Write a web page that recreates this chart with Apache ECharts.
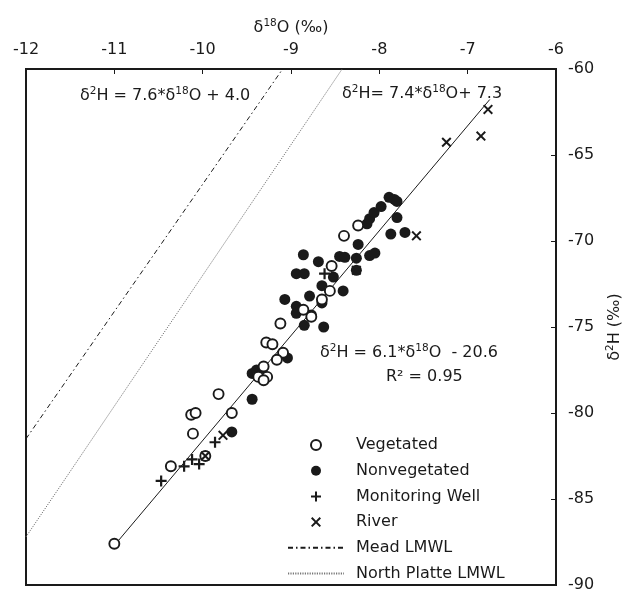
<!DOCTYPE html>
<html>
<head>
<meta charset="utf-8">
<script src="https://cdn.jsdelivr.net/npm/echarts@6/dist/echarts.min.js"></script>
<style>
  html, body { margin: 0; padding: 0; background: #fff; }
  #chart { width: 626px; height: 591px; }
</style>
</head>
<body>
<div id="chart"></div>
<script>
// Axis ranges and tick labels
const xTicks = [-12, -11, -10, -9, -8, -7, -6];
const yTicks = [-90, -85, -80, -75, -70, -65, -60];

// Sample isotope values: [δ18O, δ2H]
const vegetated = [
  [-11.0, -87.6], [-10.36, -83.1], [-10.11, -81.2], [-10.13, -80.1], [-10.08, -80.0],
  [-9.82, -78.9], [-9.67, -80.0], [-9.97, -82.5], [-9.12, -74.8], [-9.28, -75.9],
  [-9.21, -76.0], [-9.09, -76.5], [-9.16, -76.9], [-9.31, -77.3], [-9.37, -77.9],
  [-9.27, -77.9], [-9.31, -78.1], [-8.86, -74.0], [-8.77, -74.4], [-8.65, -73.4],
  [-8.56, -72.9], [-8.54, -71.45], [-8.40, -69.7], [-8.24, -69.1]
];
const nonvegetated = [
  [-9.67, -81.1], [-9.44, -79.2], [-9.44, -77.7], [-9.39, -77.5], [-9.33, -77.7],
  [-9.04, -76.8], [-9.07, -73.4], [-8.94, -73.8], [-8.94, -74.2], [-8.85, -74.9],
  [-8.79, -73.2], [-8.63, -75.0], [-8.86, -70.8], [-8.69, -71.2], [-8.94, -71.9],
  [-8.85, -71.9], [-8.65, -72.6], [-8.65, -73.6], [-8.77, -74.3], [-8.52, -72.1],
  [-8.41, -72.9], [-8.26, -71.0], [-8.45, -70.9], [-8.39, -70.95], [-8.11, -70.85],
  [-8.05, -70.7], [-8.24, -70.2], [-8.14, -69.0], [-8.11, -68.7], [-8.06, -68.35],
  [-7.98, -68.0], [-7.89, -67.46], [-7.83, -67.58], [-7.80, -67.7], [-7.80, -68.64],
  [-7.87, -69.6], [-7.71, -69.5], [-8.26, -71.7]
];
const monitoringWell = [
  [-10.47, -83.95], [-10.21, -83.1], [-10.12, -82.7], [-10.04, -82.97],
  [-9.86, -81.7], [-8.62, -71.9]
];
const river = [
  [-6.77, -62.35], [-6.85, -63.9], [-7.24, -64.26], [-7.58, -69.7],
  [-8.26, -71.7], [-9.97, -82.5], [-9.77, -81.3]
];

// Line equations: [slope, intercept] for δ2H = slope * δ18O + intercept
const meadLMWL = [7.4, 7.3];
const northPlatteLMWL = [7.6, 4.0];
const regressionFit = [6.1, -20.6];
const regressionRange = [-11.0, -6.75];

const X_MIN = xTicks[0], X_MAX = xTicks[xTicks.length - 1];
const Y_MIN = yTicks[0], Y_MAX = yTicks[yTicks.length - 1];

// Endpoints of a line clipped to the plotting window
function lineThroughWindow(eq, x0, x1) {
  const [m, b] = eq;
  let a = x0 !== undefined ? x0 : X_MIN;
  let c = x1 !== undefined ? x1 : X_MAX;
  const xAtTop = (Y_MAX - b) / m;
  const xAtBottom = (Y_MIN - b) / m;
  a = Math.max(a, Math.min(xAtTop, xAtBottom));
  c = Math.min(c, Math.max(xAtTop, xAtBottom));
  return [[a, m * a + b], [c, m * c + b]];
}

const FONT = '"DejaVu Sans", Verdana, sans-serif';
const INK = '#1a1a1a';
const FS = 16;

const PLUS_PATH = 'path://M4,0H6V4H10V6H6V10H4V6H0V4H4Z';
const CROSS_PATH = 'path://M0,1.4L1.4,0L5,3.6L8.6,0L10,1.4L6.4,5L10,8.6L8.6,10L5,6.4L1.4,10L0,8.6L3.6,5Z';

const richStyles = {
  n: { fontSize: FS, fontFamily: FONT, fontWeight: 'normal', color: INK, lineHeight: 20, verticalAlign: 'middle' },
  s: { fontSize: 10.5, fontFamily: FONT, fontWeight: 'normal', color: INK, lineHeight: 13, verticalAlign: 'top' }
};

function note(text, left, top) {
  return {
    text: text, left: left, top: top, padding: 0,
    textStyle: { fontWeight: 'normal', fontFamily: FONT, fontSize: FS, color: INK, rich: richStyles }
  };
}

const lineLegendStyle = { color: 'rgba(0,0,0,0)', borderColor: 'rgba(0,0,0,0)', borderWidth: 0 };

const chart = echarts.init(document.getElementById('chart'), null, { renderer: 'canvas' });

chart.setOption({
  animation: false,
  backgroundColor: '#fff',
  textStyle: { fontFamily: FONT },
  title: [
    note('{n|δ}{s|2}{n|H = 7.6*δ}{s|18}{n|O + 4.0}', 80, 86),
    note('{n|δ}{s|2}{n|H= 7.4*δ}{s|18}{n|O+ 7.3}', 342, 84),
    note('{n|δ}{s|2}{n|H = 6.1*δ}{s|18}{n|O  - 20.6}', 320, 343),
    note('{n|R² = 0.95}', 386, 367)
  ],
  grid: {
    left: 26, right: 70, top: 69, bottom: 6,
    containLabel: false, outerBoundsMode: 'none',
    show: true, borderColor: INK, borderWidth: 2, backgroundColor: 'transparent'
  },
  legend: {
    orient: 'vertical',
    left: 282, top: 432,
    itemWidth: 56, itemHeight: 10, itemGap: 9.7,
    textStyle: { fontSize: FS, color: INK, fontFamily: FONT, padding: [0, 0, 0, 7] },
    data: [
      'Vegetated', 'Nonvegetated', 'Monitoring Well', 'River',
      { name: 'Mead LMWL', itemStyle: lineLegendStyle },
      { name: 'North Platte LMWL', itemStyle: lineLegendStyle }
    ]
  },
  xAxis: {
    type: 'value', position: 'top',
    min: X_MIN, max: X_MAX, interval: 1,
    name: '{n|δ}{s|18}{n|O (‰)}',
    nameLocation: 'middle', nameGap: 31,
    nameTextStyle: { rich: richStyles },
    axisLine: { show: true, onZero: false, lineStyle: { color: INK, width: 2 } },
    axisTick: { show: true, inside: true, length: 5, lineStyle: { color: INK, width: 1 } },
    axisLabel: { fontSize: FS, color: INK, fontFamily: FONT, margin: 11 },
    splitLine: { show: false }
  },
  yAxis: {
    type: 'value', position: 'right',
    min: Y_MIN, max: Y_MAX, interval: 5,
    name: '{n|δ}{s|2}{n|H (‰)}',
    nameLocation: 'middle', nameGap: 48,
    nameTextStyle: { rich: richStyles },
    axisLine: { show: true, onZero: false, lineStyle: { color: INK, width: 2 } },
    axisTick: { show: true, inside: true, length: 5, lineStyle: { color: INK, width: 1 } },
    axisLabel: { fontSize: FS, color: INK, fontFamily: FONT, margin: 12 },
    splitLine: { show: false }
  },
  series: [
    {
      name: 'Mead LMWL', type: 'line', symbol: 'none', silent: true, z: 1,
      data: lineThroughWindow(meadLMWL),
      lineStyle: { color: INK, width: 1, type: [5, 3, 1.5, 3] },
      itemStyle: { color: INK }
    },
    {
      name: 'North Platte LMWL', type: 'line', symbol: 'none', silent: true, z: 1,
      data: lineThroughWindow(northPlatteLMWL),
      lineStyle: { color: '#777', width: 1, type: [1.2, 1.2] },
      itemStyle: { color: '#777' }
    },
    {
      name: 'Regression', type: 'line', symbol: 'none', silent: true, z: 1,
      data: lineThroughWindow(regressionFit, regressionRange[0], regressionRange[1]),
      lineStyle: { color: INK, width: 1 }
    },
    {
      name: 'Nonvegetated', type: 'scatter', symbol: 'circle', symbolSize: 11, z: 3,
      data: nonvegetated,
      itemStyle: { color: INK, opacity: 1 }
    },
    {
      name: 'Vegetated', type: 'scatter', symbol: 'circle', symbolSize: 10, z: 4,
      data: vegetated,
      itemStyle: { color: '#fff', borderColor: INK, borderWidth: 1.9, opacity: 1 }
    },
    {
      name: 'Monitoring Well', type: 'scatter', symbol: PLUS_PATH, symbolSize: 11,
      symbolKeepAspect: true, z: 5,
      data: monitoringWell,
      itemStyle: { color: INK, opacity: 1 }
    },
    {
      name: 'River', type: 'scatter', symbol: CROSS_PATH, symbolSize: 10,
      symbolKeepAspect: true, z: 5,
      data: river,
      itemStyle: { color: INK, opacity: 1 }
    }
  ]
});
</script>
</body>
</html>
